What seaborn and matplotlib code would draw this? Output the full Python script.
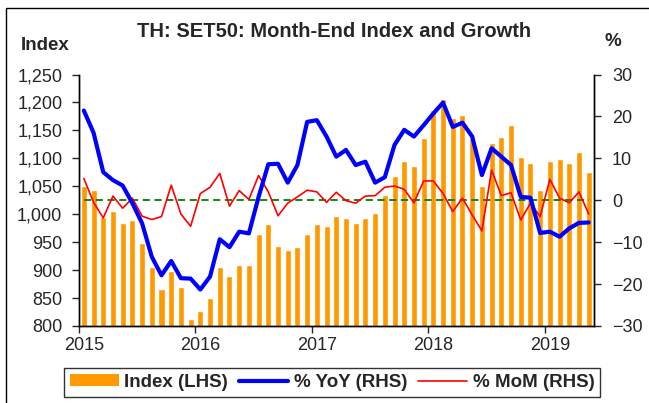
import numpy as np
import pandas as pd
import matplotlib
matplotlib.use("Agg")
import matplotlib.pyplot as plt
import matplotlib.ticker as mticker
from matplotlib.patches import Patch, Rectangle
from matplotlib.lines import Line2D
import seaborn as sns

# === Data ===
years = ["2015", "2016", "2017", "2018", "2019"]

index_vals = [1050, 1043, 995, 1005, 985, 989, 949, 905, 867, 899, 869, 812,
              826, 850, 905, 890, 910, 910, 964, 983, 944, 936, 942, 964,
              983, 979, 996, 994, 985, 994, 1003, 1034, 1069, 1095, 1086, 1136,
              1186, 1206, 1172, 1178, 1137, 1051, 1127, 1139, 1159, 1102, 1091, 1044,
              1096, 1099, 1091, 1112, 1075]

yoy = [21.4, 16.1, 6.7, 4.8, 3.5, -0.7, -5.5, -13.5, -17.9, -14.5, -18.6, -18.7,
       -21.3, -18.2, -9.3, -11.2, -7.5, -7.9, 0.8, 8.6, 8.7, 4.2, 8.4, 18.7,
       19.1, 15.2, 10.4, 12.0, 8.4, 9.2, 4.2, 5.5, 13.2, 16.8, 15.2, 17.9,
       20.7, 23.3, 17.5, 18.5, 15.2, 6.0, 12.4, 10.4, 8.4, 0.8, 0.6, -7.8,
       -7.5, -8.7, -6.7, -5.4, -5.3]

mom = [5.2, -0.5, -4.2, 1.0, -1.9, 0.5, -3.8, -4.6, -3.9, 3.6, -3.3, -6.2,
       1.6, 3.1, 6.4, -1.4, 2.3, 0.2, 5.9, 2.0, -3.7, -0.7, 0.8, 2.4,
       2.0, -0.5, 1.9, -0.1, -0.7, 1.0, 1.1, 3.1, 3.4, 2.6, -0.6, 4.6,
       4.6, 1.6, -2.7, 0.5, -3.5, -7.3, 7.2, 1.1, 1.8, -4.7, -0.7, -3.9,
       5.0, 0.5, -0.6, 2.0, -3.3]

n = len(index_vals)
df = pd.DataFrame({"pos": np.arange(n), "index": index_vals, "yoy": yoy,
                   "mom": mom, "zero": np.zeros(n)})

# === Style ===
sns.set_style("ticks")
plt.rcParams["font.family"] = ["Liberation Sans", "DejaVu Sans"]

fig = plt.figure(figsize=(6.49, 4.03), dpi=100)
ax = fig.add_axes([0.1217, 0.1911, 0.7936, 0.624])

# bars on left axis
sns.barplot(data=df, x="pos", y="index", color="#FF9900", saturation=1,
            width=0.62, native_scale=True, ax=ax, zorder=1)
ax.set_ylim(800, 1250)
ax.set_yticks(np.arange(800, 1251, 50))
ax.yaxis.set_major_formatter(mticker.FuncFormatter(lambda v, p: f"{int(v):,}"))
ax.set_xlabel("")
ax.set_ylabel("")

# lines on right axis
ax2 = ax.twinx()
sns.lineplot(data=df, x="pos", y="zero", color="#008000", lw=1.3,
             linestyle=(0, (4, 2.5)), ax=ax2)
sns.lineplot(data=df, x="pos", y="mom", color="#FF0000", lw=1.2, ax=ax2)
sns.lineplot(data=df, x="pos", y="yoy", color="#0000FF", lw=3.0, ax=ax2)
ax2.set_ylim(-30, 30)
ax2.set_yticks(np.arange(-30, 31, 10))
ax2.set_xlabel("")
ax2.set_ylabel("")

# x axis: ticks at year boundaries, labels under January
ax.set_xlim(-0.5, n - 0.45)
ax.set_xticks(np.arange(-0.5, n, 12))
ax.set_xticklabels([])
ax.set_xticks(np.arange(0, n, 12), minor=True)
ax.set_xticklabels(years, minor=True)
ax.tick_params(axis="x", which="minor", length=0, pad=8, labelsize=13)
ax.tick_params(axis="x", which="major", length=5, width=1, direction="out")
ax.tick_params(axis="y", length=5, width=1, direction="out", pad=7, labelsize=13)
ax2.tick_params(axis="y", length=5, width=1, direction="out", pad=8, labelsize=13)

for a in (ax, ax2):
    a.spines["top"].set_visible(False)
    for s in ("left", "right", "bottom"):
        a.spines[s].set_color("black")
        a.spines[s].set_linewidth(1)
ax.spines["right"].set_visible(True)

# texts
fig.text(0.515, 0.921, "TH: SET50: Month-End Index and Growth", ha="center",
         va="center", fontsize=14.5, fontweight="bold")
fig.text(0.0701, 0.886, "Index", ha="center", va="center", fontsize=13.5,
         fontweight="bold")
fig.text(0.9438, 0.896, "%", ha="center", va="center", fontsize=13.5,
         fontweight="bold")

# legend
handles = [Patch(facecolor="#FF9900", edgecolor="none"),
           Line2D([], [], color="#0000FF", lw=3.0),
           Line2D([], [], color="#FF0000", lw=1.2)]
labels = ["Index (LHS)", "% YoY (RHS)", "% MoM (RHS)"]
leg = fig.legend(handles, labels, loc="center", bbox_to_anchor=(0.5116, 0.0509),
                 ncol=3, frameon=True, fancybox=False, edgecolor="black",
                 prop={"weight": "bold", "size": 13.5}, handlelength=2.6,
                 handleheight=0.6, columnspacing=0.6, handletextpad=0.3,
                 borderpad=0.3)
leg.get_frame().set_linewidth(1)

# outer frame
fig.patches.append(Rectangle((0.0092, -0.05), 1.1, 1.0302, transform=fig.transFigure,
                             fill=False, edgecolor="black", lw=1))

fig.savefig("out.png", dpi=100)
